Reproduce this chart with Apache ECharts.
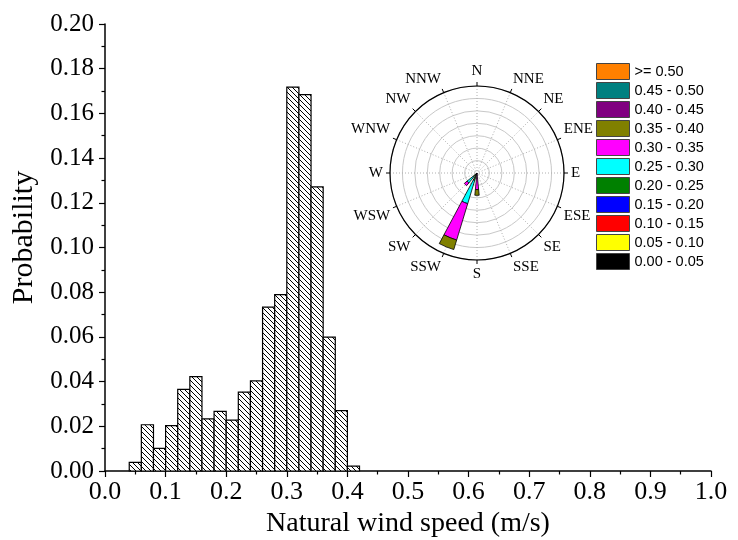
<!DOCTYPE html>
<html>
<head>
<meta charset="utf-8">
<title>Natural wind speed distribution</title>
<script src="https://cdn.jsdelivr.net/npm/echarts@6/dist/echarts.min.js"></script>
<style>
    html, body { margin: 0; padding: 0; background: #fff; }
    #chart { width: 738px; height: 540px; }
</style>
</head>
<body>
<div id="chart"></div>
<script>
// Histogram: left edge of each bin (m/s) and its probability
const binStart = [0.04, 0.06, 0.08, 0.10, 0.12, 0.14, 0.16, 0.18, 0.20, 0.22,
                  0.24, 0.26, 0.28, 0.30, 0.32, 0.34, 0.36, 0.38, 0.40];
const binWidth = 0.02;
const probability = [0.0039, 0.0207, 0.0101, 0.0203, 0.0365, 0.0422, 0.0233, 0.0267, 0.0228, 0.0353,
                     0.0403, 0.0733, 0.0789, 0.1718, 0.1684, 0.1271, 0.0599, 0.0270, 0.0022];

// Wind rose
const directions = ['N', 'NNE', 'NE', 'ENE', 'E', 'ESE', 'SE', 'SSE',
                    'S', 'SSW', 'SW', 'WSW', 'W', 'WNW', 'NW', 'NNW'];
const speedClasses = ['0.00 - 0.05', '0.05 - 0.10', '0.10 - 0.15', '0.15 - 0.20', '0.20 - 0.25',
                      '0.25 - 0.30', '0.30 - 0.35', '0.35 - 0.40', '0.40 - 0.45', '0.45 - 0.50', '>= 0.50'];
// frequency (%) per speed class, only the directions that have any wind
const roseS   = [0, 0, 0, 0, 0,   0,   6.7,  2.3, 0, 0, 0];
const roseSSW = [0, 0, 0, 0, 3.2, 9.7, 15.3, 4.0, 0, 0, 0];
const roseSW  = [0, 0, 0, 0, 2.0, 3.2, 1.4,  0,   0, 0, 0];
const roseMax = 35;
const roseStep = 5;

const classColors = ['#000000', '#FFFF00', '#FF0000', '#0000FF', '#008000',
                     '#00FFFF', '#FF00FF', '#808000', '#800080', '#008080', '#FF8000'];

const serif = 'Liberation Serif';
const sans = 'Liberation Sans';

// diagonal "\" hatch used as the bar fill
function makeHatch(size) {
    const c = document.createElement('canvas');
    c.width = size;
    c.height = size;
    const g = c.getContext('2d');
    g.fillStyle = '#fff';
    g.fillRect(0, 0, size, size);
    g.strokeStyle = '#000';
    g.lineWidth = 1;
    g.beginPath();
    g.moveTo(-1, -1); g.lineTo(size + 1, size + 1);
    g.moveTo(-1, size - 1); g.lineTo(1, size + 1);
    g.moveTo(size - 1, -1); g.lineTo(size + 1, 1);
    g.stroke();
    return c;
}
const hatch = { image: makeHatch(5), repeat: 'repeat' };

const histData = binStart.map((x, i) => [x, x + binWidth, probability[i]]);

const roseByDir = { S: roseS, SSW: roseSSW, SW: roseSW };
const roseSeries = speedClasses.map((name, k) => ({
    name: name,
    type: 'bar',
    coordinateSystem: 'polar',
    polarIndex: 0,
    stack: 'rose',
    barWidth: '50%',
    z: 5,
    itemStyle: { color: classColors[k], borderColor: '#000', borderWidth: 0.8 },
    data: directions.map(d => {
        const v = roseByDir[d] ? roseByDir[d][k] : 0;
        return v > 0 ? v : '-';
    })
}));

const chart = echarts.init(document.getElementById('chart'));

const option = {
    backgroundColor: '#fff',
    animation: false,
    // keep the plot box fixed, labels may run to the edge
    grid: { left: 105, right: 27, top: 24, bottom: 69, outerBoundsMode: 'none' },
    xAxis: {
        type: 'value',
        min: 0,
        max: 1,
        interval: 0.1,
        name: 'Natural wind speed (m/s)',
        nameLocation: 'middle',
        nameGap: 25,
        nameTextStyle: { fontFamily: serif, fontSize: 28, color: '#000' },
        axisLine: { lineStyle: { color: '#000', width: 1.5 } },
        axisTick: { length: 6, lineStyle: { color: '#000', width: 1.2 } },
        minorTick: { show: true, splitNumber: 2, length: 3.5, lineStyle: { color: '#000', width: 1.2 } },
        splitLine: { show: false },
        axisLabel: {
            formatter: v => v.toFixed(1),
            fontFamily: serif, fontSize: 26, color: '#000', margin: 8
        }
    },
    yAxis: {
        type: 'value',
        min: 0,
        max: 0.2,
        interval: 0.02,
        name: 'Probability',
        nameLocation: 'middle',
        nameGap: 65,
        nameTextStyle: { fontFamily: serif, fontSize: 30, color: '#000', padding: [0, 0, 0, 20] },
        axisLine: { show: true, lineStyle: { color: '#000', width: 1.5 } },
        axisTick: { show: true, length: 6, lineStyle: { color: '#000', width: 1.2 } },
        minorTick: { show: true, splitNumber: 2, length: 3.5, lineStyle: { color: '#000', width: 1.2 } },
        splitLine: { show: false },
        axisLabel: {
            formatter: v => v.toFixed(2),
            fontFamily: serif, fontSize: 25, color: '#000', margin: 11
        }
    },
    polar: [
        { center: [477, 173], radius: 87 },
        { center: [477, 173], radius: 87 }
    ],
    angleAxis: [
        {
            // bars: one band per direction, N centred at the top
            polarIndex: 0,
            type: 'category',
            data: directions,
            startAngle: 90 + 360 / directions.length / 2,
            axisLine: { show: false },
            axisTick: { show: false },
            axisLabel: { show: false },
            splitLine: { show: false }
        },
        {
            // frame: circle, direction lines and labels
            polarIndex: 1,
            type: 'value',
            min: 0,
            max: 360,
            interval: 360 / directions.length,
            startAngle: 90,
            axisLine: { lineStyle: { color: '#000', width: 1.2 } },
            axisTick: { length: 4, lineStyle: { color: '#000' } },
            splitLine: { show: true, lineStyle: { color: '#b0b0b0', type: [1, 2], width: 1 } },
            axisLabel: {
                formatter: v => directions[Math.round(v / (360 / directions.length)) % directions.length],
                fontFamily: serif, fontSize: 15, color: '#000', margin: 7
            }
        }
    ],
    radiusAxis: [
        { polarIndex: 0, type: 'value', min: 0, max: roseMax, show: false },
        {
            polarIndex: 1,
            type: 'value',
            min: 0,
            max: roseMax,
            interval: roseStep,
            axisLine: { show: false },
            axisTick: { show: false },
            axisLabel: { show: false },
            splitLine: { show: true, lineStyle: { color: '#c8c8c8', width: 1 } }
        }
    ],
    legend: {
        orient: 'vertical',
        left: 596,
        top: 63,
        padding: 0,
        itemWidth: 33,
        itemHeight: 16,
        itemGap: 2,
        selectedMode: false,
        icon: 'rect',
        data: speedClasses.slice().reverse(),
        itemStyle: { borderColor: '#444', borderWidth: 1 },
        textStyle: { fontFamily: sans, fontSize: 14.5, color: '#000' }
    },
    series: [
        {
            type: 'custom',
            name: 'histogram',
            encode: { x: [0, 1], y: 2 },
            data: histData,
            renderItem: (params, api) => {
                const top = api.coord([api.value(0), api.value(2)]);
                const bottom = api.coord([api.value(1), 0]);
                return {
                    type: 'rect',
                    shape: {
                        x: top[0],
                        y: top[1],
                        width: bottom[0] - top[0],
                        height: bottom[1] - top[1]
                    },
                    style: { fill: hatch, stroke: '#000', lineWidth: 1.2 }
                };
            }
        }
    ].concat(roseSeries)
};

chart.setOption(option);
</script>
</body>
</html>
